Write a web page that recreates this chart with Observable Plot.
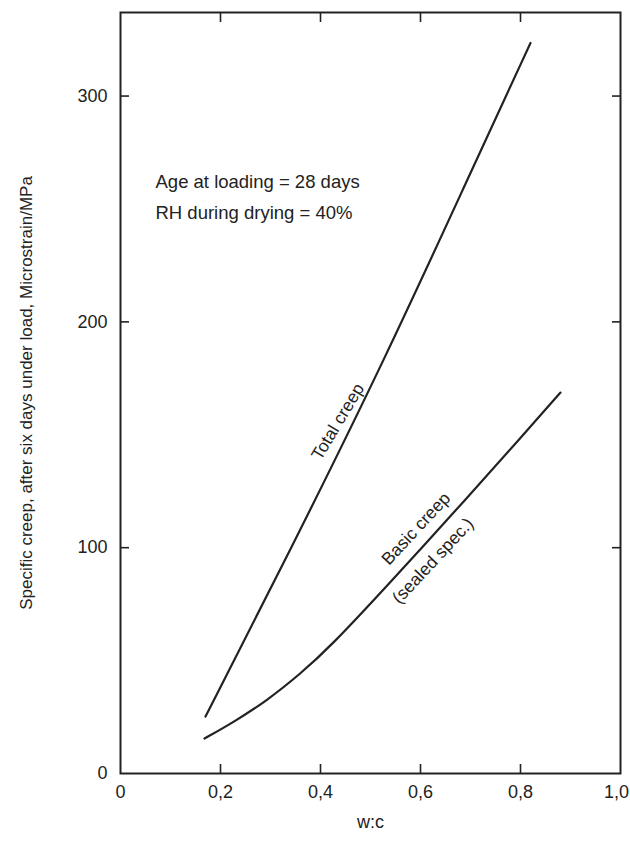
<!DOCTYPE html>
<html>
<head>
<meta charset="utf-8">
<script src="https://cdn.jsdelivr.net/npm/d3@7"></script>
<script src="https://cdn.jsdelivr.net/npm/@observablehq/plot@0.6"></script>
<style>
  html, body { margin: 0; padding: 0; background: #fff; }
</style>
</head>
<body>
<div id="chart"></div>
<script>
// ---- data ----
const totalWc    = [0.170, 0.340, 0.530, 0.700, 0.820];
const totalCreep = [25.2, 99.0, 184.0, 266.0, 323.5];

const basicWc    = [0.168, 0.226, 0.293, 0.359, 0.419, 0.533, 0.699, 0.795, 0.880];
const basicCreep = [15.5, 22.7, 32.3, 44.0, 56.0, 83.0, 123.5, 147.3, 168.7];

const xTicks = [0, 0.2, 0.4, 0.6, 0.8];
const xLastTick = [1.0];
const yTicks = [0, 100, 200, 300];
const xInnerTicks = [0.2, 0.4, 0.6, 0.8];
const yInnerTicks = [100, 200, 300];

const xTitle = "w:c";
const yTitle = "Specific creep, after six days under load, Microstrain/MPa";

const noteLines = ["Age at loading = 28 days", "RH during drying = 40%"];
const noteX = [0.07, 0.07];
const noteY = [262, 248];

const curveLabels = ["Total creep", "Basic creep", "(sealed spec.)"];
const curveLabelX = [0.435, 0.591, 0.625];
const curveLabelY = [155.8, 108.4, 94.2];
const curveLabelAngle = [-59, -47, -47];

// ---- tables built from the arrays ----
const total = totalWc.map((x, i) => ({x, y: totalCreep[i]}));
const basic = basicWc.map((x, i) => ({x, y: basicCreep[i]}));
const notes = noteLines.map((t, i) => ({t, x: noteX[i], y: noteY[i]}));
const labels = curveLabels.map((t, i) => ({t, x: curveLabelX[i], y: curveLabelY[i], a: curveLabelAngle[i]}));

const fmt = d => d === 0 ? "0" : d.toFixed(1).replace(".", ",");
const ink = "#222";
const font = "'Liberation Sans', Arial, Helvetica, sans-serif";

const chart = Plot.plot({
  width: 630,
  height: 842,
  marginLeft: 120,
  marginRight: 10,
  marginTop: 12,
  marginBottom: 69,
  style: {fontFamily: font, fontSize: "18px", color: ink, background: "#fff"},
  x: {domain: [0, 1]},
  y: {domain: [0, 337]},
  marks: [
    // tick labels
    Plot.axisX(xTicks, {anchor: "bottom", tickSize: 0, tickPadding: 12, tickFormat: fmt, fontSize: 18, label: null}),
    Plot.axisX(xLastTick, {anchor: "bottom", tickSize: 0, tickPadding: 12, tickFormat: fmt, fontSize: 18, label: null, dx: -4}),
    Plot.axisY(yTicks, {anchor: "left", tickSize: 0, tickPadding: 13, fontSize: 18, label: null}),
    // inward ticks on all four sides
    Plot.axisX(xInnerTicks, {anchor: "bottom", tickSize: -9, tickFormat: () => "", label: null, strokeWidth: 1.6}),
    Plot.axisX(xInnerTicks, {anchor: "top", tickSize: -9, tickFormat: () => "", label: null, strokeWidth: 1.6}),
    Plot.axisY(yInnerTicks, {anchor: "left", tickSize: -9, tickFormat: () => "", label: null, strokeWidth: 1.6}),
    Plot.axisY(yInnerTicks, {anchor: "right", tickSize: -9, tickFormat: () => "", label: null, strokeWidth: 1.6}),
    Plot.frame({stroke: ink, strokeWidth: 2}),
    // axis titles
    Plot.text([xTitle], {text: d => d, frameAnchor: "bottom", textAnchor: "middle", dy: 54, fontSize: 18, fill: ink}),
    Plot.text([yTitle], {text: d => d, frameAnchor: "left", textAnchor: "middle", dx: -94, rotate: -90, fontSize: 17, fill: ink}),
    // curves
    Plot.line(total, {x: "x", y: "y", curve: "basis", stroke: ink, strokeWidth: 2.2}),
    Plot.line(basic, {x: "x", y: "y", curve: "basis", stroke: ink, strokeWidth: 2.2}),
    // annotations
    Plot.text(notes, {x: "x", y: "y", text: "t", textAnchor: "start", fontSize: 18.5, fill: ink}),
    Plot.text(labels, {x: "x", y: "y", text: "t", rotate: "a", fontSize: 17.5, fill: ink})
  ]
});

document.getElementById("chart").appendChild(chart);
</script>
</body>
</html>
